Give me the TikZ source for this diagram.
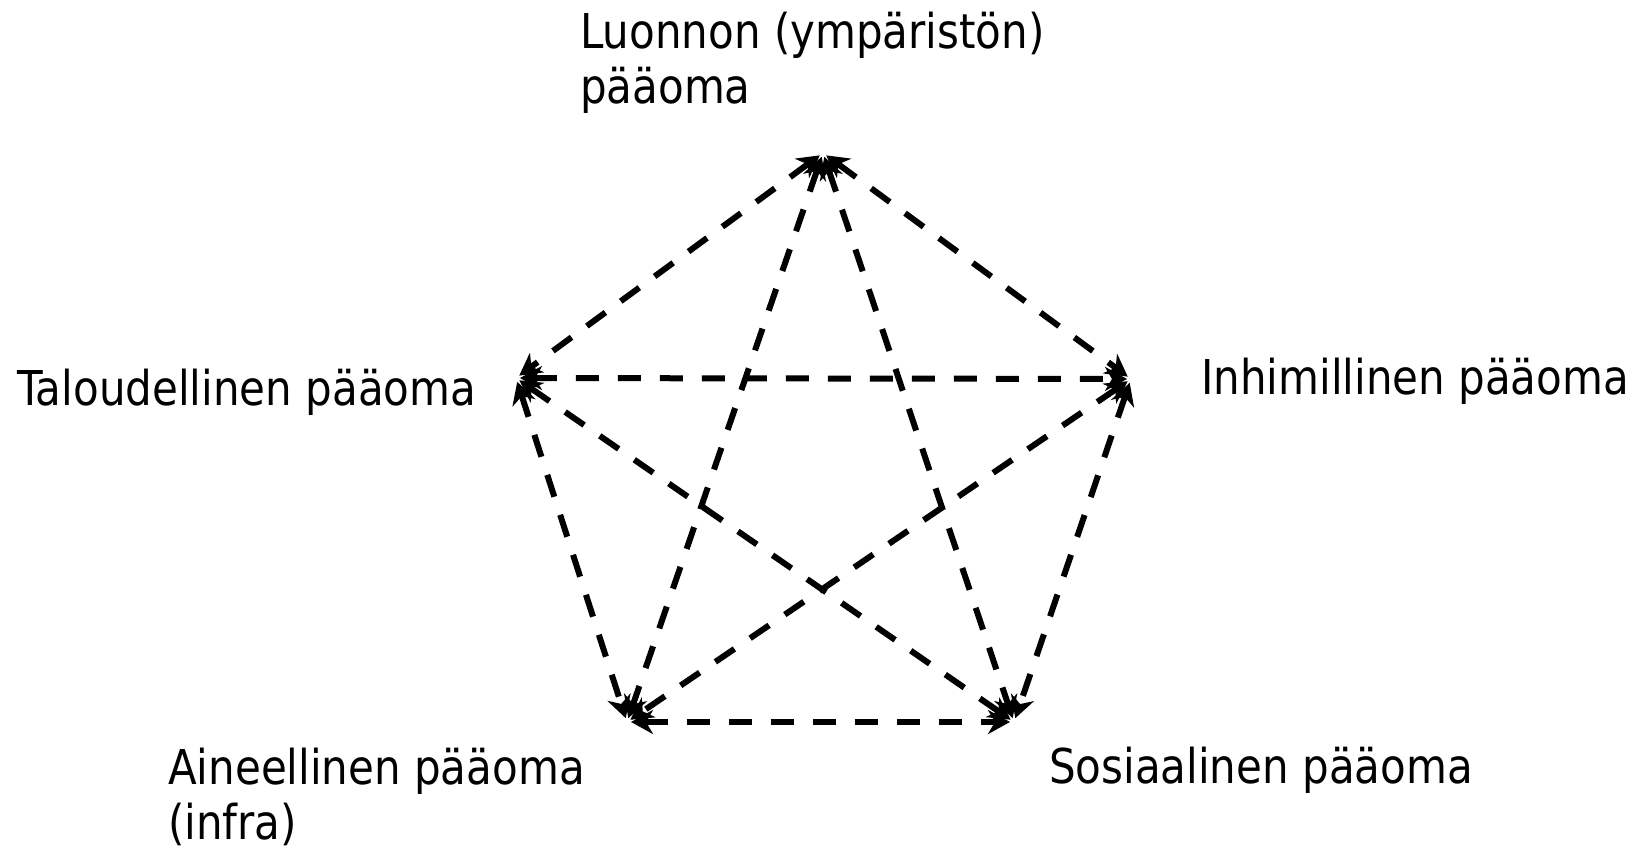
\documentclass[tikz,border=0pt]{standalone}
\usepackage{fontspec}
\setmainfont{DejaVu Sans}[FakeStretch=0.875]
\usetikzlibrary{arrows.meta}
\begin{document}
\begin{tikzpicture}[x=1pt,y=-1pt,
  lbl/.style={inner sep=0pt,anchor=base west,align=left,font=\fontsize{48}{55}\selectfont},
  link/.style={line width=6pt,dash pattern=on 23pt off 19pt,
    {Stealth[length=22pt,width=24pt,inset=7pt]}-{Stealth[length=22pt,width=24pt,inset=7pt]},
    shorten <=4pt, shorten >=4pt}]
\useasboundingbox (0,0) rectangle (1631,850);
\coordinate (T) at (823,153);
\coordinate (L) at (516,378);
\coordinate (R) at (1131,379);
\coordinate (BL) at (627,722);
\coordinate (BR) at (1014,722);
\node[lbl] (tT) at (580,104) {Luonnon (ympäristön)\\pääoma};
\node[lbl] (tL) at (17,405) {Taloudellinen pääoma};
\node[lbl] (tR) at (1201,395) {Inhimillinen pääoma};
\node[lbl] (tBL) at (168,839) {Aineellinen pääoma\\(infra)};
\node[lbl] (tBR) at (1049,783) {Sosiaalinen pääoma};
\draw[link] (T) -- (L);
\draw[link] (T) -- (R);
\draw[link] (T) -- (BL);
\draw[link] (T) -- (BR);
\draw[link] (L) -- (R);
\draw[link] (L) -- (BR);
\draw[link] (L) -- (BL);
\draw[link] (R) -- (BL);
\draw[link] (R) -- (BR);
\draw[link] (BL) -- (BR);
\end{tikzpicture}
\end{document}
